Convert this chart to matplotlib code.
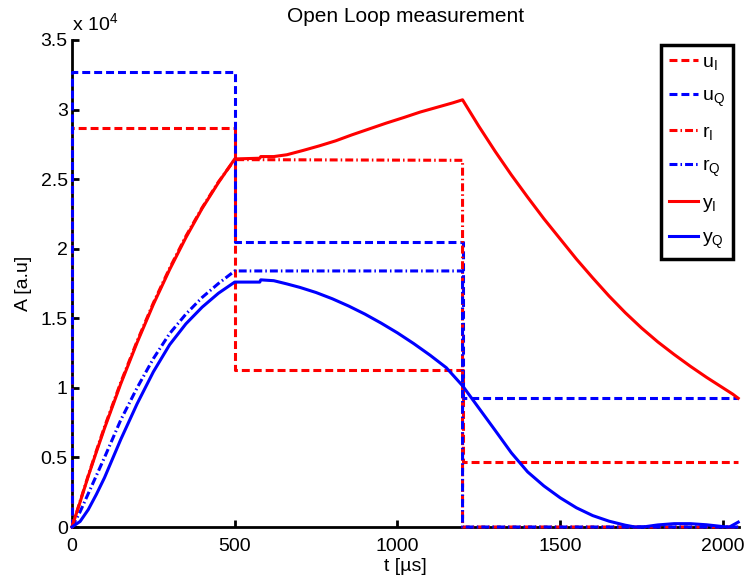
import matplotlib
matplotlib.use('Agg')
import matplotlib.pyplot as plt

plt.rcParams['font.family'] = ['Liberation Sans', 'DejaVu Sans']
plt.rcParams['mathtext.fontset'] = 'custom'
plt.rcParams['mathtext.rm'] = 'Liberation Sans'
plt.rcParams['mathtext.it'] = 'Liberation Sans:italic'
plt.rcParams['mathtext.bf'] = 'Liberation Sans:bold'

# Stellgrößen (Stufen)
t_u = [0, 0, 500, 500, 1200, 1200, 2047]
u_I = [0, 28700, 28700, 11300, 11300, 4700, 4700]
u_Q = [0, 32700, 32700, 20500, 20500, 9300, 9300]

# Sollwerte
t_r = [0, 25, 50, 75, 100, 150, 200, 250, 300, 350, 400, 450, 500,
       1200, 1200, 2047]
r_I = [0, 1850, 3700, 5480, 7200, 10400, 13350, 16100, 18600, 20900, 22950,
       24800, 26400, 26350, 0, 0]
r_Q = [0, 1100, 2400, 3700, 5000, 7700, 10000, 12100, 13900, 15300, 16500,
       17500, 18400, 18400, 0, 0]

# Messwerte
t_y = [0, 25, 50, 75, 100, 150, 200, 250, 300, 350, 400, 450, 500,
       577, 580, 620, 660, 710, 760, 810, 860, 915, 965, 1020, 1070, 1120,
       1170, 1200,
       1250, 1300, 1350, 1400, 1450, 1500, 1550, 1600, 1650, 1700, 1750,
       1800, 1850, 1900, 1950, 2000, 2030, 2047]
y_I = [0, 1800, 3650, 5400, 7100, 10300, 13250, 16000, 18500, 20800, 22900,
       24750, 26450,
       26500, 26620, 26620, 26750, 27060, 27390, 27750, 28180, 28620, 29020,
       29430, 29820, 30150, 30480, 30700,
       28800, 27000, 25300, 23700, 22150, 20700, 19250, 17900, 16600, 15400,
       14300, 13300, 12400, 11550, 10750, 10000, 9550, 9250]

t_yq = [0, 25, 50, 75, 100, 150, 200, 250, 300, 350, 400, 450, 500,
        577, 580, 620, 660, 700, 750, 800, 850, 900, 950, 1000, 1050, 1100,
        1150, 1200,
        1250, 1300, 1350, 1400, 1450, 1500, 1550, 1600, 1650, 1700, 1730,
        1760, 1800, 1850, 1900, 1950, 2000, 2020, 2047]
y_Q = [0, 400, 1250, 2350, 3550, 6300, 8850, 11150, 13100, 14600, 15800,
       16800, 17600,
       17600, 17760, 17700, 17470, 17220, 16850, 16400, 15880, 15300, 14650,
       13950, 13180, 12350, 11450, 10150,
       8550, 6950, 5330, 3960, 2950, 2100, 1380, 820, 420, 130, 0,
       20, 150, 240, 240, 160, 30, 0, 350]

yticks = [0, 5000, 10000, 15000, 20000, 25000, 30000, 35000]
ytick_labels = ['0', '0.5', '1', '1.5', '2', '2.5', '3', '3.5']
xticks = [0, 500, 1000, 1500, 2000]

fs = 14
lw = 2.2
dashed = (0, (2.6, 1.3))
dashdot = (0, (2.6, 1.0, 0.5, 1.0))

fig = plt.figure(figsize=(7.46, 5.79), dpi=100)
ax = fig.add_axes([0.0965, 0.0898, 0.8935, 0.8412])

kw = dict(lw=lw, zorder=3, clip_on=False)
ax.plot(t_u, u_I, color='#ff0000', ls=dashed, label=r'u$_\mathrm{I}$', **kw)
ax.plot(t_u, u_Q, color='#0000ff', ls=dashed, label=r'u$_\mathrm{Q}$', **kw)
ax.plot(t_r, r_I, color='#ff0000', ls=dashdot, label=r'r$_\mathrm{I}$', **kw)
ax.plot(t_r, r_Q, color='#0000ff', ls=dashdot, label=r'r$_\mathrm{Q}$', **kw)
ax.plot(t_y, y_I, color='#ff0000', ls='-', label=r'y$_\mathrm{I}$', **kw)
ax.plot(t_yq, y_Q, color='#0000ff', ls='-', label=r'y$_\mathrm{Q}$', **kw)

ax.set_xlim(0, 2048)
ax.set_ylim(0, 35000)
ax.set_xticks(xticks)
ax.set_yticks(yticks)
ax.set_yticklabels(ytick_labels)
ax.tick_params(direction='in', length=5, width=2, labelsize=fs)
ax.tick_params(axis='x', pad=8)
ax.tick_params(axis='y', pad=3)
ax.spines['top'].set_visible(False)
ax.spines['right'].set_visible(False)
ax.spines['left'].set_linewidth(2)
ax.spines['bottom'].set_linewidth(2)

ax.text(0, 1.012, r'x 10$^{4}$', transform=ax.transAxes, fontsize=fs,
        ha='left', va='bottom')
ax.set_title('Open Loop measurement', fontsize=15, pad=13)
ax.set_xlabel('t [µs]', fontsize=fs, labelpad=2)
ax.set_ylabel('A [a.u]', fontsize=fs, labelpad=6)

leg = ax.legend(loc='upper right', bbox_to_anchor=(0.9916, 0.9897),
                borderaxespad=0, fontsize=fs, fancybox=False, framealpha=1,
                edgecolor='black', handlelength=1.5, handletextpad=0.2,
                labelspacing=0.78, borderpad=0.42)
leg.get_frame().set_linewidth(2.5)

fig.savefig('out.png', dpi=100)
